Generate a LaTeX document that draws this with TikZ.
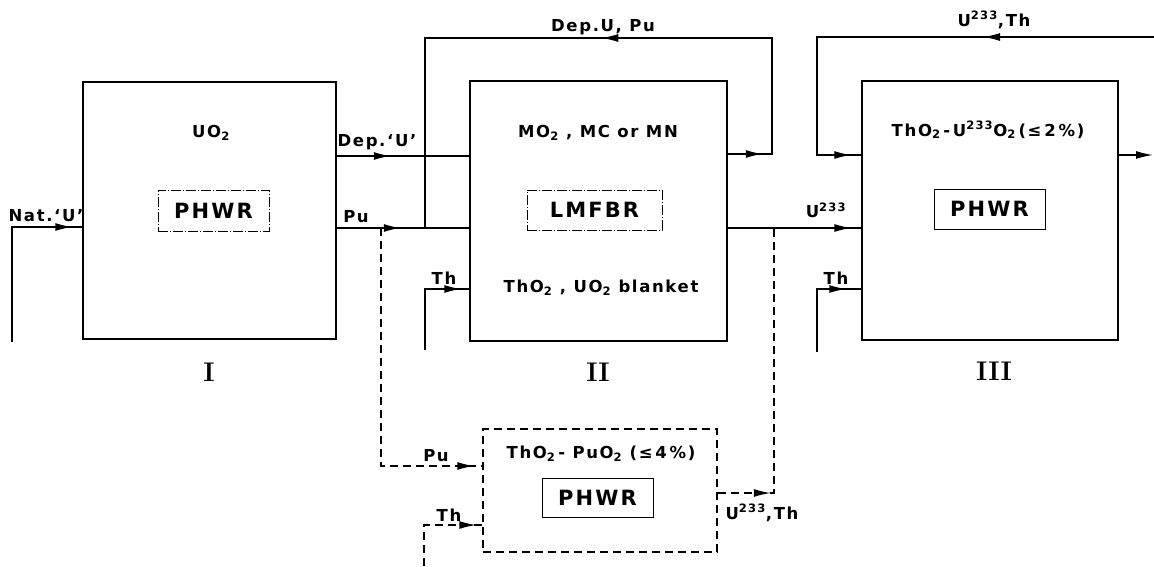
\documentclass[tikz,border=0pt]{standalone}
\usepackage{fontspec}
\newfontfamily\lbl[LetterSpace=10, Ligatures=TeX]{DejaVu Sans}
\usetikzlibrary{arrows.meta,decorations.markings}

\begin{document}
\begin{tikzpicture}[
  x=1pt, y=-1pt,
  line width=1.5pt,
  every node/.style={inner sep=0pt},
  reactor/.style={draw, line width=1.5pt},
  core/.style={draw, line width=0.9pt, font=\lbl\bfseries\fontsize{21}{23}\selectfont},
  brokencore/.style={core, dash pattern=on 10pt off 2pt on 1pt off 2pt},
  lbl/.style={font=\lbl\bfseries\fontsize{16.5}{18}\selectfont},
  numeral/.style={font=\rmfamily\bfseries\fontsize{27}{29}\selectfont},
  dashflow/.style={dash pattern=on 8pt off 5pt},
  flowat/.style={postaction={decorate, decoration={markings,
      mark=at position #1 with {\arrow{Latex[length=17pt,width=8pt]}}}}}
]
  \useasboundingbox (0,0) rectangle (1154,566);

  % Reactores I, II, III y el PHWR de torio (rayado)
  \node[reactor, minimum width=253pt, minimum height=257pt] (boxI) at (209.5,210.5) {};
  \node[reactor, minimum width=257pt, minimum height=260pt] (boxII) at (598.5,211) {};
  \node[reactor, minimum width=256pt, minimum height=259pt] (boxIII) at (990,210.5) {};
  \node[reactor, dashflow, minimum width=234pt, minimum height=123pt] (boxIV) at (600,490.5) {};

  % Tipo de reactor dentro de cada caja
  \node[brokencore, minimum width=111pt, minimum height=41pt] (coreI) at (213.5,210.5) {PHWR};
  \node[brokencore, minimum width=135pt, minimum height=40pt] (coreII) at (594.5,210) {LMFBR};
  \node[core, minimum width=111pt, minimum height=40pt] (coreIII) at (989.5,209) {PHWR};
  \node[core, minimum width=111pt, minimum height=39pt] (coreIV) at (597.5,497.5) {PHWR};

  % Combustibles
  \node[lbl] (fuelI) at (211,133) {UO\textsubscript{2}};
  \node[lbl] (fuelII) at (598,133) {MO\textsubscript{2} , MC or MN};
  \node[lbl] (blanketII) at (601,288) {ThO\textsubscript{2} , UO\textsubscript{2} blanket};
  \node[lbl] (fuelIII) at (988,130) {ThO\textsubscript{2}\,-\,U\textsuperscript{233}O\textsubscript{2}\,(≤\,2\,\%)};
  \node[lbl] (fuelIV) at (601,454) {ThO\textsubscript{2}\,- PuO\textsubscript{2} (≤\,4\,\%)};

  % Etapas
  \node[numeral] (stI) at (209,372) {I};
  \node[numeral] (stII) at (598,372) {II};
  \node[numeral] (stIII) at (994,371) {III};

  % Puntos auxiliares
  \coordinate (natU) at (12,342);
  \coordinate (natUk) at (12,227);
  \coordinate (loopTR) at (772,38);
  \coordinate (loopTL) at (425,38);
  \coordinate (puJoin) at (425,228);
  \coordinate (thII) at (425,350);
  \coordinate (retIII) at (1154,37);
  \coordinate (retIIIc) at (817,37);
  \coordinate (outIII) at (1153,155);
  \coordinate (thIII) at (817,352);
  \coordinate (puTap) at (381,228);
  \coordinate (thIV) at (424,566);
  \coordinate (u233Tap) at (774,228);

  % Flujos etapa I
  \draw[flowat=-10pt] (natU) -- (natUk) -- (natUk -| boxI.west);
  \draw[flowat=54pt] (boxI.east |- 0,156) -- (boxII.west |- 0,156);
  \draw[flowat=64pt] (boxI.east |- 0,228) -- (boxII.west |- 0,228);

  % Flujos etapa II
  \draw[flowat=35pt, flowat=331pt] (boxII.east |- 0,154) -| (loopTR) -- (loopTL) -- (puJoin);
  \draw[flowat=-8pt] (thII) |- (boxII.west |- 0,289);
  \draw[flowat=-10pt] (boxII.east |- 0,228) -- (boxIII.west |- 0,228);

  % Flujos etapa III
  \draw[flowat=171pt, flowat=-10pt] (retIII) -- (retIIIc) |- (boxIII.west |- 0,155);
  \draw[-{Latex[length=17pt,width=8pt]}] (boxIII.east |- 0,155) -- (outIII);
  \draw[flowat=-15pt] (thIII) |- (boxIII.west |- 0,289);

  % Flujos del PHWR de torio (rayado)
  \draw[dashflow, flowat=-8pt] (puTap) |- (boxIV.west |- 0,466);
  \draw[dashflow, flowat=-6pt] (thIV) |- (boxIV.west |- 0,525);
  \draw[dashflow, flowat=53pt] (boxIV.east |- 0,493) -| (u233Tap);

  % Rotulos de los flujos
  \node[lbl] (natUlbl) at (46,216) {Nat.‘U’};
  \node[lbl] (depUlbl) at (377,142) {Dep.‘U’};
  \node[lbl] (puIlbl) at (356,217) {Pu};
  \node[lbl] (loopIIlbl) at (603,27) {Dep.U, Pu};
  \node[lbl] (thIIlbl) at (444,278) {Th};
  \node[lbl] (u233lbl) at (826,210) {U\textsuperscript{233}};
  \node[lbl] (retIIIlbl) at (994,20) {U\textsuperscript{233},Th};
  \node[lbl] (thIIIlbl) at (836,278) {Th};
  \node[lbl] (puIVlbl) at (436,456) {Pu};
  \node[lbl] (thIVlbl) at (449,515) {Th};
  \node[lbl] (outIVlbl) at (762,513) {U\textsuperscript{233},Th};
\end{tikzpicture}
\end{document}
